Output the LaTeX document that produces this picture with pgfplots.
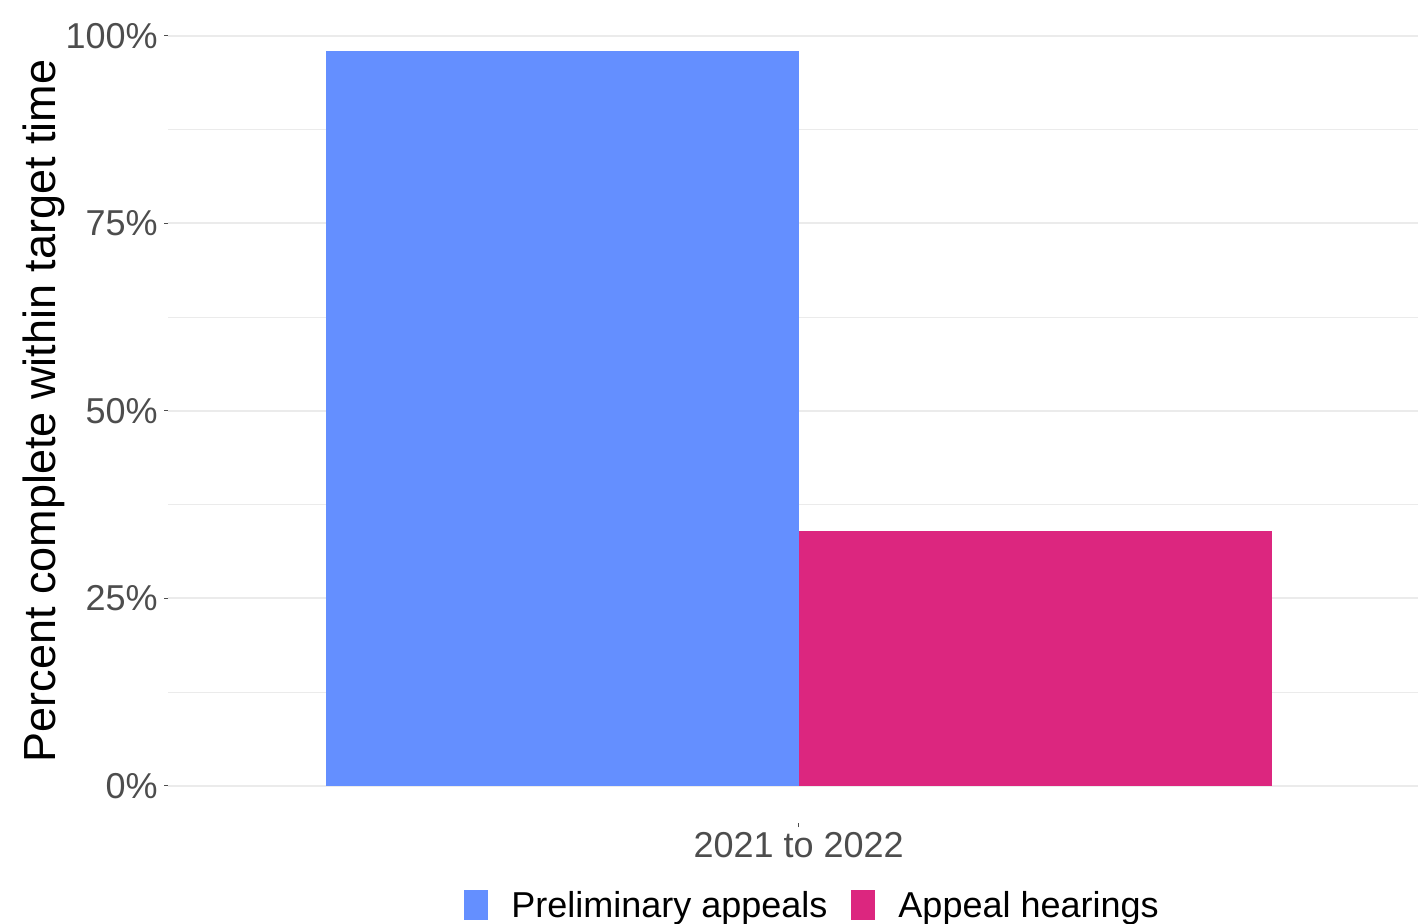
\documentclass[border=0pt]{standalone}
\usepackage{pgfplots}
\pgfplotsset{compat=1.18}
\usepackage{fontspec}
\setmainfont{Liberation Sans}
\definecolor{prelim}{HTML}{648FFF}
\definecolor{hear}{HTML}{DC267F}
\definecolor{gridc}{HTML}{EBEBEB}
\definecolor{tickc}{HTML}{4D4D4D}
\begin{document}
\begin{tikzpicture}
\useasboundingbox (0,0) rectangle (709pt,462pt);
\begin{axis}[
  at={(84pt,50.25pt)}, anchor=south west,
  width=625pt, height=412.5pt, scale only axis,
  xmin=0.4, xmax=1.5893, ymin=-5, ymax=105,
  axis line style={draw=none},
  xtick={1}, xticklabels={2021 to 2022},
  ytick={0,25,50,75,100}, yticklabels={0\%,25\%,50\%,75\%,100\%},
  minor ytick={12.5,37.5,62.5,87.5},
  ymajorgrids, yminorgrids,
  major grid style={gridc, line width=1pt},
  minor grid style={gridc, line width=0.5pt},
  tick align=outside, tick pos=left,
  major tick length=2pt, minor tick length=0pt,
  major tick style={tickc, line width=0.5pt},
  /pgf/number format/assume math mode=true,
  ticklabel style={font=\fontsize{18}{21.6}\selectfont, text=tickc, inner sep=0pt},
  yticklabel style={anchor=east, xshift=-3pt},
  xticklabel style={anchor=base, yshift=-15.25pt},
  ylabel={Percent complete within target time},
  ylabel style={font=\fontsize{22.5}{27}\selectfont, at={(axis description cs:-0.0904,0.5)}, anchor=base, rotate=0},
  legend columns=2,
  legend style={at={(axis description cs:0.5148,-0.0806)}, anchor=north, draw=none, fill=none,
    inner sep=0pt, outer sep=0pt, column sep=0pt,
    font=\fontsize{18}{21.6}\selectfont,
    cells={anchor=base west},
    nodes={inner sep=0pt},
    /tikz/every odd column/.append style={column sep=11.5pt},
    /tikz/every even column/.append style={column sep=12pt}},
]
\addplot[ybar, bar width=0.45, bar shift=0pt, fill=prelim, draw=none,
  legend image code/.code={\fill[prelim] (0pt,-1pt) rectangle (12pt,14pt);}]
  coordinates {(0.775,98)};
\addlegendentry{Preliminary appeals}
\addplot[ybar, bar width=0.45, bar shift=0pt, fill=hear, draw=none,
  legend image code/.code={\fill[hear] (0pt,-1pt) rectangle (12pt,14pt);}]
  coordinates {(1.225,34)};
\addlegendentry{Appeal hearings}
\end{axis}
\end{tikzpicture}
\end{document}
